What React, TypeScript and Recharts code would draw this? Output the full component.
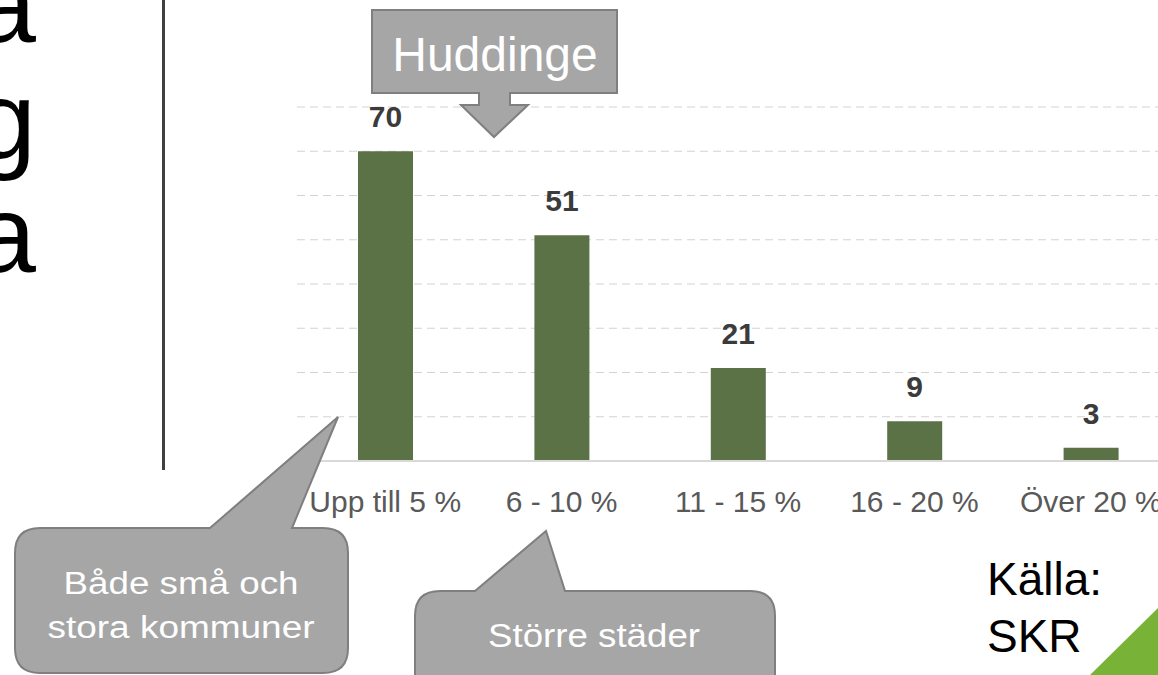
import React from 'react';
import { BarChart, Bar, XAxis, YAxis, CartesianGrid, LabelList } from 'recharts';

const categories = ['Upp till 5 %', '6 - 10 %', '11 - 15 %', '16 - 20 %', 'Över 20 %'];
const counts = [70, 51, 21, 9, 3];
const yTicks = [0, 10, 20, 30, 40, 50, 60, 70, 80];

const data = categories.map((name, i) => ({ name, value: counts[i] }));

const FONT = '"Liberation Sans", Arial, sans-serif';
const NARROW = '"Liberation Sans Narrow", "Liberation Sans", Arial, sans-serif';
const CALLOUT_FILL = '#a6a6a6';
const CALLOUT_STROKE = '#7f7f7f';

function Tick(props: any) {
  const { x, y, payload } = props;
  return (
    <text x={x} y={y + 51} textAnchor="middle" fontSize={30} fill="#595959" fontFamily={FONT}>
      {payload.value}
    </text>
  );
}

// rounded box with a speech tail on the top edge
function bubblePath(x1: number, y1: number, x2: number, y2: number, r: number, ta: number, tip: [number, number], tb: number) {
  return [
    `M ${x1 + r} ${y1}`,
    `L ${ta} ${y1}`,
    `L ${tip[0]} ${tip[1]}`,
    `L ${tb} ${y1}`,
    `L ${x2 - r} ${y1}`,
    `Q ${x2} ${y1} ${x2} ${y1 + r}`,
    `L ${x2} ${y2 - r}`,
    `Q ${x2} ${y2} ${x2 - r} ${y2}`,
    `L ${x1 + r} ${y2}`,
    `Q ${x1} ${y2} ${x1} ${y2 - r}`,
    `L ${x1} ${y1 + r}`,
    `Q ${x1} ${y1} ${x1 + r} ${y1}`,
    'Z',
  ].join(' ');
}

export default function App() {
  return (
    <div style={{ position: 'absolute', left: 0, top: 0, width: 1158, height: 675, overflow: 'hidden', background: '#fff' }}>
      <div style={{ position: 'absolute', left: 0, top: 0 }}>
        <BarChart width={1200} height={675} data={data} margin={{ top: 107, right: 21, left: 297, bottom: 154 }}>
          <CartesianGrid vertical={false} stroke="#d3d3d3" strokeDasharray="8 5" />
          <YAxis hide domain={[0, 80]} ticks={yTicks} />
          <XAxis
            dataKey="name"
            height={60}
            axisLine={{ stroke: '#d9d9d9', strokeWidth: 2 }}
            tickLine={false}
            tickSize={0}
            tickMargin={0}
            tick={<Tick />}
            interval={0}
          />
          <Bar dataKey="value" fill="#5b7247" barSize={55} isAnimationActive={false}>
            <LabelList dataKey="value" position="top" offset={24} fill="#3b3b3b" fontSize={30} fontWeight="bold" fontFamily={NARROW} />
          </Bar>
        </BarChart>
      </div>
      <svg width={1158} height={675} style={{ position: 'absolute', left: 0, top: 0, pointerEvents: 'none' }} fontFamily={FONT}>
        <text x={36} y={42} textAnchor="end" fontSize={110} fill="#000">a</text>
        <text x={36} y={158} textAnchor="end" fontSize={110} fill="#000">g</text>
        <text x={36} y={272} textAnchor="end" fontSize={110} fill="#000">a</text>
        <line x1={163.5} y1={0} x2={163.5} y2={470} stroke="#404040" strokeWidth={3} />

        <path
          d="M 372 10 L 617 10 L 617 93 L 510 93 L 510 105 L 528 105 L 494 137 L 461 105 L 479 105 L 479 93 L 372 93 Z"
          fill={CALLOUT_FILL}
          stroke={CALLOUT_STROKE}
          strokeWidth={2}
        />
        <text x={495} y={71} textAnchor="middle" fontSize={48} fill="#fff">Huddinge</text>

        <path d={bubblePath(15, 528, 348, 673, 25, 210, [338, 417], 292)} fill={CALLOUT_FILL} stroke={CALLOUT_STROKE} strokeWidth={2} />
        <text x={181} y={594} textAnchor="middle" fontSize={31} fill="#fff" textLength={235} lengthAdjust="spacingAndGlyphs">Både små och</text>
        <text x={181} y={638} textAnchor="middle" fontSize={31} fill="#fff" textLength={267} lengthAdjust="spacingAndGlyphs">stora kommuner</text>

        <path d={bubblePath(415, 591, 775, 700, 25, 475, [546, 531], 565)} fill={CALLOUT_FILL} stroke={CALLOUT_STROKE} strokeWidth={2} />
        <text x={594} y={647} textAnchor="middle" fontSize={33} fill="#fff" textLength={212} lengthAdjust="spacingAndGlyphs">Större städer</text>

        <text x={987} y={595} fontSize={46} fill="#000">Källa:</text>
        <text x={987} y={652} fontSize={46} fill="#000">SKR</text>
        <polygon points="1090,675 1158,608 1158,675" fill="#78b236" />
      </svg>
    </div>
  );
}
